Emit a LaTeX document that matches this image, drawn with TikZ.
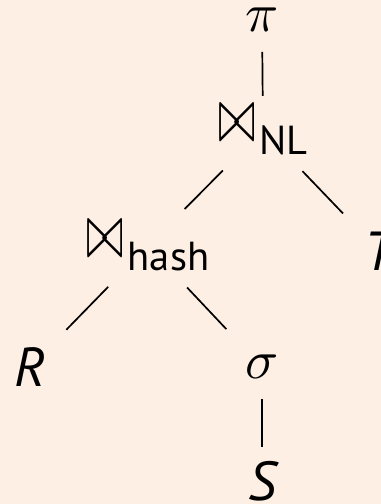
\documentclass[tikz,border=0pt]{standalone}
\usepackage{fontspec}
\usepackage{graphicx}
\setmainfont{PT Sans}
\definecolor{bgpeach}{RGB}{253,239,228}
\tikzset{
  lbl/.style={inner sep=0pt, outer sep=0pt, text=black},
  vedge/.style={line width=0.34pt, shorten <=6.4pt, shorten >=6.8pt},
  dedge/.style={line width=0.34pt, shorten <=11.4pt, shorten >=10.4pt},
}
\newcommand{\joinsub}[1]{\resizebox{7.4pt}{7.2pt}{$\bowtie$}\kern0.8pt\raisebox{-2.6pt}{\fontsize{8.1}{9}\selectfont #1}}
\begin{document}
\begin{tikzpicture}[x=0.2pt,y=-0.2pt,font=\fontsize{11}{13}\selectfont]
\fill[bgpeach] (0,0) rectangle (381,504);
\useasboundingbox (0,0) rectangle (381,504);
\node[lbl] (pi) at (262,20) {$\pi$};
\node[lbl] (nl) at (263,130) {\joinsub{NL}};
\node[lbl] (hash) at (148,246) {\joinsub{hash}};
\node[lbl] (t) at (379,251) {\itshape T};
\node[lbl] (r) at (30,367) {\itshape R};
\node[lbl] (sigma) at (262,367) {$\sigma$};
\node[lbl] (s) at (262,481) {\itshape S};
\draw[vedge] (pi.center) -- (nl.center);
\draw[dedge] (nl.center) -- (hash.center);
\draw[dedge] (nl.center) -- (t.center);
\draw[dedge] (hash.center) -- (r.center);
\draw[dedge] (hash.center) -- (sigma.center);
\draw[vedge] (sigma.center) -- (s.center);
\end{tikzpicture}
\end{document}
